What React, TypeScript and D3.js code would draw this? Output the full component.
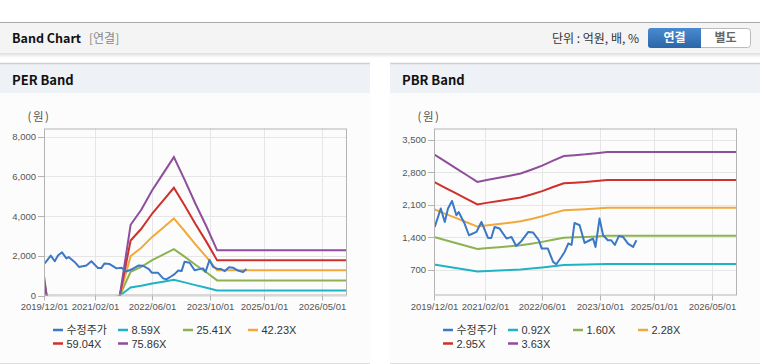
import React from 'react';
import * as d3 from 'd3';

// 수정주가 (adjusted price), shared by both panels
const priceDates = [
  '2019-12-07', '2020-01-27', '2020-03-01', '2020-03-28', '2020-05-01', '2020-06-07', '2020-06-26',
  '2020-08-15', '2020-09-21', '2020-11-23', '2021-01-04', '2021-03-01', '2021-03-28', '2021-04-25',
  '2021-06-07', '2021-08-04', '2021-09-15', '2021-10-25', '2021-12-07', '2022-02-04', '2022-03-15',
  '2022-05-04', '2022-05-28', '2022-07-19', '2022-09-01', '2022-09-28', '2022-11-10', '2022-12-07',
  '2023-01-07', '2023-02-04', '2023-03-01', '2023-04-13', '2023-05-25', '2023-07-07', '2023-08-04',
  '2023-08-25', '2023-09-28', '2023-10-28', '2023-12-07', '2024-01-04', '2024-02-04', '2024-03-10',
  '2024-04-13', '2024-05-25', '2024-07-07', '2024-08-04',
];
const priceValues = [
  1617, 2014, 1725, 2014, 2178, 1870, 1941,
  1691, 1439, 1510, 1725, 1381, 1381, 1617,
  1583, 1368, 1402, 1208, 1310, 1510, 1500,
  1331, 1152, 1152, 864, 814, 971, 1079,
  1260, 1230, 1704, 1654, 1273, 1331, 1368,
  1187, 1798, 1439, 1331, 1331, 1230, 1424,
  1402, 1260, 1187, 1331,
];

// quarterly dates used by the bands
const bandDates = [
  '2019-12-01', '2020-03-01', '2020-06-01', '2020-09-01', '2020-12-01', '2021-03-01',
  '2021-06-01', '2021-09-01', '2021-12-01', '2022-03-01', '2022-06-01', '2022-09-01',
  '2022-12-01', '2023-03-01', '2023-06-01', '2023-09-01', '2023-12-01', '2026-12-01',
];

// PER band
const perLabels = ['8.59X', '25.41X', '42.23X', '59.04X', '75.86X'];
const per859 = [112, -344, -387, -344, -301, -258, -172, 0, 404, 490, 601, 696, 790, 661, 524, 395, 258, 258];
const per2541 = [330, -1016, -1143, -1016, -889, -762, -508, 0, 1194, 1448, 1779, 2058, 2338, 1957, 1550, 1169, 762, 762];
const per4223 = [549, -1689, -1900, -1689, -1478, -1267, -845, 0, 1985, 2407, 2956, 3421, 3885, 3252, 2576, 1943, 1267, 1267];
const per5904 = [768, -2362, -2657, -2362, -2066, -1771, -1181, 0, 2775, 3365, 4133, 4782, 5432, 4546, 3601, 2716, 1771, 1771];
const per7586 = [986, -3034, -3414, -3034, -2655, -2276, -1517, 0, 3565, 4324, 5310, 6145, 6979, 5841, 4627, 3490, 2276, 2276];
const perTicks = [0, 2000, 4000, 6000, 8000];

// PBR band
const pbrLabels = ['0.92X', '1.60X', '2.28X', '2.95X', '3.63X'];
const pbr092 = [807, 769, 731, 694, 656, 668, 679, 690, 702, 722, 745, 773, 798, 802, 807, 813, 820, 820];
const pbr160 = [1403, 1338, 1272, 1206, 1141, 1162, 1181, 1200, 1221, 1256, 1296, 1344, 1387, 1395, 1403, 1414, 1426, 1426];
const pbr228 = [2000, 1906, 1813, 1719, 1626, 1655, 1683, 1710, 1740, 1790, 1847, 1915, 1977, 1988, 2000, 2016, 2031, 2031];
const pbr295 = [2587, 2466, 2345, 2224, 2103, 2142, 2177, 2213, 2251, 2316, 2390, 2478, 2558, 2572, 2587, 2608, 2628, 2628];
const pbr363 = [3184, 3035, 2886, 2737, 2588, 2635, 2679, 2723, 2770, 2850, 2940, 3049, 3147, 3165, 3184, 3209, 3234, 3234];
const pbrTicks = [700, 1400, 2100, 2800, 3500];

const xTicks = ['2019-12-01', '2021-02-01', '2022-06-01', '2023-10-01', '2025-01-01', '2026-05-01'];
const xDomain = ['2019-12-01', '2026-12-01'];
const priceLabel = '수정주가';

const COLORS = ['#3b78c6', '#1fb3c4', '#8cb252', '#f2a93b', '#cf302c', '#8f4e9b'];
const FONT = '"Liberation Sans", Arial, sans-serif';
const KFONT = '"Noto Sans CJK KR", "Liberation Sans", sans-serif';

const parse = d3.timeParse('%Y-%m-%d');
const fmtTick = d3.timeFormat('%Y/%m/%d');

type PanelProps = {
  id: string;
  x0: number;
  title: string;
  yDomain: [number, number];
  yTicks: number[];
  bands: number[][];
  labels: string[];
};

function Panel({ id, x0, title, yDomain, yTicks, bands, labels }: PanelProps) {
  const left = x0 + 44;
  const right = x0 + 347;
  const top = 128.5;
  const bottom = 295.5;

  const x = d3.scaleTime().domain(xDomain.map(d => parse(d) as Date)).range([left, right]);
  const y = d3.scaleLinear().domain(yDomain).range([bottom, top]);

  const line = d3.line<[Date, number]>().x(d => x(d[0])).y(d => y(d[1]));
  const priceData: [Date, number][] = priceDates.map((d, i) => [parse(d) as Date, priceValues[i]]);
  const bandData = bands.map(b => b.map((v, i) => [parse(bandDates[i]) as Date, v] as [Date, number]));

  const legendItems = [priceLabel, ...labels];

  return (
    <g>
      {/* panel chrome */}
      <rect x={x0} y={64} width={370} height={299} fill="#fcfcfc" />
      <rect x={x0} y={64} width={370} height={29} fill="#eef1f6" />
      <line x1={x0} x2={x0 + 370} y1={63.5} y2={63.5} stroke="#cfcfcf" strokeWidth={1.5} />
      <line x1={x0} x2={x0 + 370} y1={363.5} y2={363.5} stroke="#dddddd" />
      <text x={x0 + 12} y={85} fontFamily={KFONT} fontWeight={700} fontSize={13} fill="#111">{title}</text>

      <text x={left - 5} y={121} textAnchor="middle" fontFamily={KFONT} fontSize={11.5} letterSpacing={1.5} fill="#555">(원)</text>

      {/* grid */}
      {yTicks.map(t => (
        <line key={'gy' + t} x1={left} x2={right} y1={Math.round(y(t)) + 0.5} y2={Math.round(y(t)) + 0.5} stroke="#e6e6e6" />
      ))}
      {xTicks.map(t => {
        const px = Math.round(x(parse(t) as Date)) + 0.5;
        return <line key={'gx' + t} x1={px} x2={px} y1={top} y2={bottom} stroke="#e6e6e6" />;
      })}

      <clipPath id={id}>
        <rect x={left} y={top} width={right - left} height={bottom - top} />
      </clipPath>
      <g clipPath={`url(#${id})`}>
        {bandData.map((b, i) => (
          <path key={i} d={line(b) || ''} fill="none" stroke={COLORS[i + 1]} strokeWidth={2} />
        ))}
        <path d={line(priceData) || ''} fill="none" stroke={COLORS[0]} strokeWidth={2} strokeLinejoin="round" />
      </g>

      {/* frame */}
      <rect x={left + 0.5} y={top + 0.5} width={right - left - 1} height={bottom - top - 1} fill="none" stroke="#b4b4b4" />

      {/* y axis */}
      {yTicks.map(t => (
        <g key={'yt' + t}>
          <line x1={left - 6} x2={left} y1={Math.round(y(t)) + 0.5} y2={Math.round(y(t)) + 0.5} stroke="#b4b4b4" />
          <text x={left - 8} y={y(t) + 3.5} textAnchor="end" fontFamily={FONT} fontSize={9.5} fill="#555">
            {d3.format(',')(t)}
          </text>
        </g>
      ))}

      {/* x axis */}
      {xTicks.map(t => {
        const px = Math.round(x(parse(t) as Date)) + 0.5;
        return (
          <g key={'xt' + t}>
            <line x1={px} x2={px} y1={bottom} y2={bottom + 5} stroke="#b4b4b4" />
            <text x={px} y={310} textAnchor="middle" fontFamily={FONT} fontSize={9.5} fill="#555">
              {fmtTick(parse(t) as Date)}
            </text>
          </g>
        );
      })}

      {/* legend */}
      {legendItems.map((label, i) => {
        const lx = left + 9 + (i % 4) * 65;
        const ly = 330 + Math.floor(i / 4) * 13.5;
        return (
          <g key={'lg' + label}>
            <line x1={lx} x2={lx + 10} y1={ly} y2={ly} stroke={COLORS[i]} strokeWidth={2.5} />
            <text x={lx + 13.5} y={ly + 4} fontFamily={i === 0 ? KFONT : FONT} fontSize={11} fill="#333">{label}</text>
          </g>
        );
      })}
    </g>
  );
}

export default function App() {
  return (
    <div style={{ width: 760, height: 364 }}>
      <style>{'body{margin:0;background:#fff}'}</style>
      <svg width={760} height={364} style={{ display: 'block' }}>
        <defs>
          <linearGradient id="hdrShadow" x1="0" y1="0" x2="0" y2="1">
            <stop offset="0" stopColor="#000" stopOpacity={0.13} />
            <stop offset="1" stopColor="#000" stopOpacity={0} />
          </linearGradient>
          <linearGradient id="btnBlue" x1="0" y1="0" x2="0" y2="1">
            <stop offset="0" stopColor="#4b8ad0" />
            <stop offset="1" stopColor="#2b67a7" />
          </linearGradient>
        </defs>

        {/* header bar */}
        <rect x={0} y={22} width={760} height={31} fill="#f4f4f4" />
        <line x1={0} x2={760} y1={22.5} y2={22.5} stroke="#aaaaaa" />
        <rect x={0} y={53} width={760} height={5} fill="url(#hdrShadow)" />
        <text x={12} y={43} fontFamily={KFONT} fontWeight={700} fontSize={12.5} fill="#111">Band Chart</text>
        <text x={89} y={43} fontFamily={KFONT} fontSize={12} fill="#888">[연결]</text>
        <text x={552} y={43} fontFamily={KFONT} fontSize={12} fill="#333">단위 : 억원, 배, %</text>

        <rect x={648.5} y={28.5} width={102} height={19} rx={3} fill="#fff" stroke="#bbbbbb" />
        <rect x={648} y={28} width={53} height={20} rx={3} fill="url(#btnBlue)" />
        <rect x={694} y={28} width={7} height={20} fill="url(#btnBlue)" />
        <text x={674.5} y={42} textAnchor="middle" fontFamily={KFONT} fontWeight={700} fontSize={12} fill="#fff">연결</text>
        <text x={725.5} y={42} textAnchor="middle" fontFamily={KFONT} fontWeight={700} fontSize={12} fill="#666">별도</text>

        <Panel
          id="clipPer"
          x0={0}
          title="PER Band"
          yDomain={[0, 8420]}
          yTicks={perTicks}
          bands={[per859, per2541, per4223, per5904, per7586]}
          labels={perLabels}
        />
        <Panel
          id="clipPbr"
          x0={390}
          title="PBR Band"
          yDomain={[140, 3740]}
          yTicks={pbrTicks}
          bands={[pbr092, pbr160, pbr228, pbr295, pbr363]}
          labels={pbrLabels}
        />
      </svg>
    </div>
  );
}
